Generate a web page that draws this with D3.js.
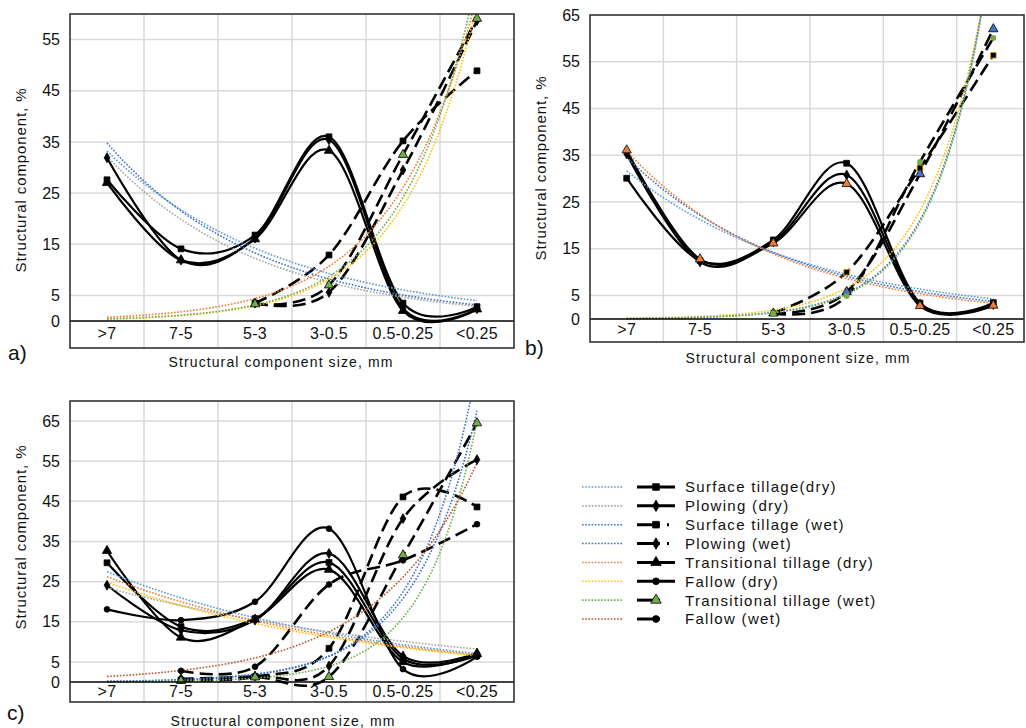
<!DOCTYPE html>
<html>
<head>
<meta charset="utf-8">
<script src="https://cdn.jsdelivr.net/npm/d3@7"></script>
<style>
  body { margin: 0; background: #fff; }
  svg { display: block; font-family: "Liberation Sans", Arial, sans-serif; }
</style>
</head>
<body>
<svg id="chart" width="1026" height="728"></svg>
<script>
var categories = [">7", "7-5", "5-3", "3-0.5", "0.5-0.25", "<0.25"];
var seriesNames = ["Surface tillage(dry)", "Plowing (dry)", "Surface tillage (wet)", "Plowing (wet)",
  "Transitional tillage (dry)", "Fallow (dry)", "Transitional tillage (wet)", "Fallow (wet)"];

// a)
var aSurfaceDry = [27.6, 14.1, 16.8, 36.0, 3.5, 2.8];
var aPlowingDry = [31.9, 11.9, 16.2, 35.4, 2.5, 2.4];
var aTransDry   = [27.0, 11.9, 16.0, 33.3, 2.0, 2.3];
var aSurfaceWet = [null, null, 3.5, 12.9, 35.2, 48.9];
var aPlowingWet = [null, null, 3.5, 5.6, 29.5, 58.7];
var aTransWet   = [null, null, 3.3, 7.0, 32.5, 59.1];

// b)
var bSurfaceDry = [30.1, 12.5, 16.9, 33.3, 3.4, 3.5];
var bPlowingDry = [35.3, 12.2, 16.5, 30.8, 3.2, 3.1];
var bTransDry   = [36.1, 12.8, 16.2, 28.9, 2.8, 2.9];
var bSurfaceWet = [null, null, 1.3, 10.0, 32.3, 56.4];
var bPlowingWet = [null, null, 1.2, 5.8, 31.0, 62.0];
var bTransWet   = [null, null, 1.2, 4.9, 33.6, 60.1];

// c)
var cSurfaceDry = [29.7, 13.8, 15.8, 29.8, 5.8, 6.6];
var cPlowingDry = [24.1, 12.9, 15.4, 32.0, 6.5, 7.2];
var cTransDry   = [32.7, 11.1, 15.6, 28.0, 5.0, 7.0];
var cFallowDry  = [18.1, 15.4, 20.0, 38.2, 3.2, 6.3];
var cSurfaceWet = [null, 0.5, 1.3, 8.4, 46.1, 43.6];
var cPlowingWet = [null, 0.8, 1.5, 4.0, 40.7, 55.4];
var cTransWet   = [null, 0.3, 1.2, 1.3, 31.6, 64.5];
var cFallowWet  = [null, 2.8, 3.8, 24.3, 30.3, 39.3];

var ticksA = [0, 5, 15, 25, 35, 45, 55];
var ticksB = [0, 5, 15, 25, 35, 45, 55, 65];
var ticksC = [0, 5, 15, 25, 35, 45, 55, 65];

var blueL = "#5b9bd5", blue = "#4472c4", grey = "#a5a5a5", orange = "#ed7d31",
    yellow = "#ffc000", green = "#70ad47", brown = "#b5582a";

var legendTrend = [blueL, grey, blue, "#3f6fc0", orange, yellow, green, brown];
var legendShape = ["square", "diamond", "square", "diamond", "triangle", "circle", "triangle", "circle"];
var legendWet = [false, false, true, true, false, false, true, true];

var symbols = {square: d3.symbolSquare, diamond: d3.symbolDiamond, triangle: d3.symbolTriangle, circle: d3.symbolCircle};
var symSize = {square: 34, diamond: 28, triangle: 38, circle: 26};

var panels = [
  {id: "a", left: 70, right: 514, boxRight: 514, top: 14, y0: 321, bottom: 348, ymax: 60, ticks: ticksA, pad: 7,
   label: [8, 360, "a)"], title: [281, 367], ytitle: [26, 180],
   series: [
     {v: aSurfaceDry, wet: false, shape: "square", fill: "#000", trend: blueL},
     {v: aPlowingDry, wet: false, shape: "diamond", fill: "#000", trend: blue},
     {v: aTransDry, wet: false, shape: "triangle", fill: "#000", trend: grey},
     {v: aSurfaceWet, wet: true, shape: "square", fill: "#000", trend: orange},
     {v: aPlowingWet, wet: true, shape: "diamond", fill: "#000", trend: yellow},
     {v: aTransWet, wet: true, shape: "triangle", fill: green, trend: green}
   ]},
  {id: "b", left: 590, right: 1030, boxRight: 1024, top: 15, y0: 319, bottom: 342, ymax: 65, ticks: ticksB, pad: 5,
   label: [525, 355, "b)"], title: [798, 363], ytitle: [546, 168],
   series: [
     {v: bSurfaceDry, wet: false, shape: "square", fill: "#000", trend: blueL},
     {v: bPlowingDry, wet: false, shape: "diamond", fill: "#000", trend: blue},
     {v: bTransDry, wet: false, shape: "triangle", fill: orange, trend: orange},
     {v: bSurfaceWet, wet: true, shape: "square", fill: "#000", stroke: yellow, trend: yellow},
     {v: bPlowingWet, wet: true, shape: "triangle", fill: blue, trend: blue},
     {v: bTransWet, wet: true, shape: "circle", fill: green, stroke: "none", trend: green}
   ]},
  {id: "c", left: 70, right: 514, boxRight: 514, top: 401, y0: 682, bottom: 702, ymax: 70, ticks: ticksC, pad: 4,
   label: [7, 720, "c)"], title: [283, 726], ytitle: [26, 537],
   series: [
     {v: cSurfaceDry, wet: false, shape: "square", fill: "#000", trend: blueL},
     {v: cPlowingDry, wet: false, shape: "diamond", fill: "#000", trend: grey},
     {v: cTransDry, wet: false, shape: "triangle", fill: "#000", trend: orange},
     {v: cFallowDry, wet: false, shape: "circle", fill: "#000", trend: yellow},
     {v: cSurfaceWet, wet: true, shape: "square", fill: "#000", trend: blue},
     {v: cPlowingWet, wet: true, shape: "diamond", fill: "#000", trend: "#3f6fc0"},
     {v: cTransWet, wet: true, shape: "triangle", fill: green, trend: green},
     {v: cFallowWet, wet: true, shape: "circle", fill: "#000", trend: brown}
   ]}
];

var svg = d3.select("#chart");

// Excel style exponential trendline: least squares on ln(y)
function expFit(values) {
  var pts = values.map(function(v, i) { return [i, v]; }).filter(function(p) { return p[1] != null && p[1] > 0; });
  var mx = d3.mean(pts, function(p) { return p[0]; });
  var my = d3.mean(pts, function(p) { return Math.log(p[1]); });
  var sxy = d3.sum(pts, function(p) { return (p[0] - mx) * (Math.log(p[1]) - my); });
  var sxx = d3.sum(pts, function(p) { return (p[0] - mx) * (p[0] - mx); });
  var b = sxy / sxx, a = my - b * mx;
  return function(t) { return Math.exp(a + b * t); };
}

function drawPanel(p) {
  var g = svg.append("g");
  var x = d3.scaleBand().domain(categories).range([p.left, p.right]);
  var half = x.bandwidth() / 2;
  var xi = d3.scaleLinear().domain([0, categories.length - 1])
    .range([x(categories[0]) + half, x(categories[categories.length - 1]) + half]);
  var y = d3.scaleLinear().domain([0, p.ymax]).range([p.y0, p.top]);

  svg.append("clipPath").attr("id", "clip-" + p.id)
    .append("rect")
    .attr("x", p.left).attr("y", p.top)
    .attr("width", p.boxRight - p.left).attr("height", p.bottom - p.top);

  g.append("rect")
    .attr("x", p.left).attr("y", p.top)
    .attr("width", p.boxRight - p.left).attr("height", p.bottom - p.top)
    .attr("fill", "#fff");

  g.selectAll(".hgrid")
    .data(p.ticks.filter(function(t) { return t > 0 && t < p.ymax; }))
    .enter().append("line")
    .attr("x1", p.left).attr("x2", p.boxRight)
    .attr("y1", function(d) { return y(d); }).attr("y2", function(d) { return y(d); })
    .attr("stroke", "#d9d9d9").attr("stroke-width", 1.5);

  g.selectAll(".vgrid")
    .data(categories.slice(1))
    .enter().append("line")
    .attr("x1", function(d) { return x(d); }).attr("x2", function(d) { return x(d); })
    .attr("y1", p.top).attr("y2", p.bottom)
    .attr("stroke", "#d9d9d9").attr("stroke-width", 1.5);

  var plot = g.append("g").attr("clip-path", "url(#clip-" + p.id + ")");

  var line = d3.line()
    .defined(function(d) { return d != null; })
    .x(function(d, i) { return xi(i); })
    .y(function(d) { return y(d); })
    .curve(d3.curveCardinal.tension(0));

  p.series.forEach(function(s) {
    plot.append("path")
      .datum(s.v)
      .attr("d", line)
      .attr("fill", "none")
      .attr("stroke", "#000")
      .attr("stroke-width", s.wet ? 2.6 : 2.2)
      .attr("stroke-dasharray", s.wet ? "13,6" : null);
  });

  var steps = d3.range(0, categories.length - 1 + 0.001, 0.05);
  p.series.forEach(function(s) {
    var f = expFit(s.v);
    plot.append("path")
      .datum(steps)
      .attr("d", d3.line().x(function(t) { return xi(t); }).y(function(t) { return y(f(t)); }))
      .attr("fill", "none")
      .attr("stroke", s.trend)
      .attr("stroke-width", 1.6)
      .attr("stroke-dasharray", "1.6,1.6");
  });

  p.series.forEach(function(s) {
    plot.selectAll(null)
      .data(s.v.map(function(v, i) { return {v: v, i: i}; }).filter(function(d) { return d.v != null; }))
      .enter().append("path")
      .attr("transform", function(d) { return "translate(" + xi(d.i) + "," + y(d.v) + ")"; })
      .attr("d", d3.symbol().type(symbols[s.shape]).size(symSize[s.shape]))
      .attr("fill", s.fill)
      .attr("stroke", s.stroke || "#000")
      .attr("stroke-width", 0.8);
  });

  g.append("line")
    .attr("x1", p.left).attr("x2", p.boxRight)
    .attr("y1", p.y0).attr("y2", p.y0)
    .attr("stroke", "#000").attr("stroke-width", 1.5);

  g.append("rect")
    .attr("x", p.left).attr("y", p.top)
    .attr("width", p.boxRight - p.left).attr("height", p.bottom - p.top)
    .attr("fill", "none").attr("stroke", "#333").attr("stroke-width", 1.6);

  var xa = g.append("g")
    .attr("transform", "translate(0," + p.y0 + ")")
    .call(d3.axisBottom(x).tickSize(0).tickPadding(p.pad));
  xa.select(".domain").remove();
  xa.attr("font-family", null).attr("font-size", null);
  xa.selectAll("text").attr("font-size", "16px").attr("fill", "#111").style("letter-spacing", "0.3px");

  var ya = g.append("g")
    .attr("transform", "translate(" + p.left + ",0)")
    .call(d3.axisLeft(y).tickValues(p.ticks).tickSize(0).tickPadding(10));
  ya.select(".domain").remove();
  ya.attr("font-family", null).attr("font-size", null);
  ya.selectAll("text").attr("font-size", "16px").attr("fill", "#111");

  g.append("text")
    .attr("x", p.title[0]).attr("y", p.title[1])
    .attr("text-anchor", "middle")
    .attr("font-size", "14px")
    .style("letter-spacing", "1.1px")
    .attr("fill", "#111")
    .text("Structural component size, mm");

  g.append("text")
    .attr("transform", "translate(" + p.ytitle[0] + "," + p.ytitle[1] + ") rotate(-90)")
    .attr("text-anchor", "middle")
    .attr("font-size", "15px")
    .style("letter-spacing", "0.9px")
    .attr("fill", "#111")
    .text("Structural component, %");

  g.append("text")
    .attr("x", p.label[0]).attr("y", p.label[1])
    .attr("font-size", "21px")
    .attr("fill", "#111")
    .text(p.label[2]);
}

panels.forEach(drawPanel);

// legend
var legend = svg.append("g");
var rowY = d3.scaleLinear().domain([0, 7]).range([487, 619]);

var rows = legend.selectAll("g")
  .data(seriesNames)
  .enter().append("g")
  .attr("transform", function(d, i) { return "translate(0," + rowY(i) + ")"; });

rows.append("line")
  .attr("x1", 582).attr("x2", 623)
  .attr("stroke", function(d, i) { return legendTrend[i]; })
  .attr("stroke-width", 1.6)
  .attr("stroke-dasharray", "1.6,1.6");

rows.append("line")
  .attr("x1", 637).attr("x2", 675)
  .attr("stroke", "#000")
  .attr("stroke-width", 3)
  .attr("stroke-dasharray", function(d, i) {
    if (!legendWet[i]) return null;
    return i < 4 ? "23,7,2,20" : "23,30";
  });

rows.append("path")
  .attr("transform", "translate(656,0)")
  .attr("d", function(d, i) { return d3.symbol().type(symbols[legendShape[i]]).size(symSize[legendShape[i]] + 10)(); })
  .attr("fill", function(d, i) { return i === 6 ? green : "#000"; })
  .attr("stroke", "#000")
  .attr("stroke-width", 0.8);

rows.append("text")
  .attr("x", 685)
  .attr("dy", "0.36em")
  .attr("font-size", "15px")
  .style("letter-spacing", "1.3px")
  .attr("fill", "#111")
  .text(function(d) { return d; });
</script>
</body>
</html>
